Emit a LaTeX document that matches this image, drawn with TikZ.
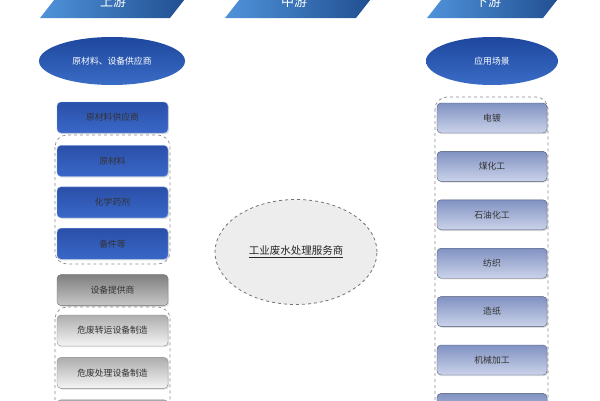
\documentclass[tikz,border=0pt]{standalone}
\usepackage{fontspec}
\setmainfont{Noto Sans CJK SC}
\usetikzlibrary{positioning,shadows,shapes.geometric}

\definecolor{headlight}{HTML}{4F93DA}
\definecolor{headdark}{HTML}{1F4C8E}
\definecolor{ovaldark}{HTML}{1E479E}
\definecolor{ovallight}{HTML}{3A6CC6}
\definecolor{bluetop}{HTML}{2A4FA8}
\definecolor{bluebot}{HTML}{3A68C8}
\definecolor{slatetop}{HTML}{8192C2}
\definecolor{slatebot}{HTML}{CBD3EA}
\definecolor{groupline}{HTML}{8A8A8A}

\begin{document}
\begin{tikzpicture}[x=1pt,y=-1pt,node distance=18pt,
    font=\fontsize{8.8}{10}\selectfont,
    box/.style={rounded corners=4pt,minimum height=31pt,inner sep=0pt,
      drop shadow={opacity=.25,shadow xshift=1.2pt,shadow yshift=-1.2pt}},
    blue box/.style={box,minimum width=111pt,draw=bluebot!60!white,
      top color=bluetop,bottom color=bluebot,text=black!80},
    dark box/.style={box,minimum width=111pt,draw=black!55,
      top color=black!50,bottom color=black!22,text=black!80},
    pale box/.style={box,minimum width=111pt,draw=black!45,
      top color=black!32,bottom color=black!4,text=black!80},
    slate box/.style={box,minimum width=110pt,minimum height=30pt,
      draw=slatetop!60!black,top color=slatetop,bottom color=slatebot,
      text=black!80},
    oval/.style={ellipse,minimum height=48pt,inner sep=0pt,
      top color=ovaldark,bottom color=ovallight,text=white},
    group/.style={draw=groupline,dashed,rounded corners=12pt,line width=.7pt},
    head/.style={left color=headlight,right color=headdark}]
  \useasboundingbox (0,0) rectangle (600,400);
  \clip (0,0) rectangle (600,400);

  % stage headers
  \shade[head] (40,18) -- (62,-10) -- (192,-10) -- (170,18) -- cycle;
  \shade[head] (225,18) -- (247,-10) -- (378,-10) -- (356,18) -- cycle;
  \shade[head] (427,18) -- (449,-10) -- (565,-10) -- (543,18) -- cycle;
  \node[text=white,font=\fontsize{13}{15}\selectfont] (up) at (113,2) {上游};
  \node[text=white,font=\fontsize{13}{15}\selectfont] (mid) at (294,2) {中游};
  \node[text=white,font=\fontsize{13}{15}\selectfont] (down) at (488,2) {下游};

  \node[oval,minimum width=146pt] (supply) at (112,61) {原材料、设备供应商};
  \node[oval,minimum width=132pt] (scene) at (492,61) {应用场景};

  % dashed groups
  \draw[group] (55,135) rectangle (170,264);
  \draw[group] (55,307) rectangle (170,430);
  \draw[group] (435,97) rectangle (548,430);

  % upstream
  \node[blue box] (raw) at (112.5,117.5) {原材料供应商};
  \node[blue box] (mat) [below=12pt of raw] {原材料};
  \node[blue box] (chem) [below=10pt of mat] {化学药剂};
  \node[blue box] (parts) [below=10pt of chem] {备件等};
  \node[dark box] (equip) [below=15pt of parts] {设备提供商};
  \node[pale box] (trans) [below=9pt of equip] {危废转运设备制造};
  \node[pale box] (treat) [below=11pt of trans] {危废处理设备制造};
  \node[pale box] (more) [below=11pt of treat] {};

  % downstream
  \node[slate box] (plate) at (492,118) {电镀};
  \node[slate box] (coal) [below=of plate] {煤化工};
  \node[slate box] (oil) [below=of coal] {石油化工};
  \node[slate box] (textile) [below=of oil] {纺织};
  \node[slate box] (paper) [below=of textile] {造纸};
  \node[slate box] (mach) [below=of paper] {机械加工};
  \node[slate box] (rest) [below=of mach] {};

  % midstream
  \node[ellipse,draw=black!55,dashed,line width=.8pt,fill=black!7,
    minimum width=162pt,minimum height=105pt,text=black!85,
    font=\fontsize{10.5}{12}\selectfont] (service) at (296,252)
    {\underline{工业废水处理服务商}};
\end{tikzpicture}
\end{document}
